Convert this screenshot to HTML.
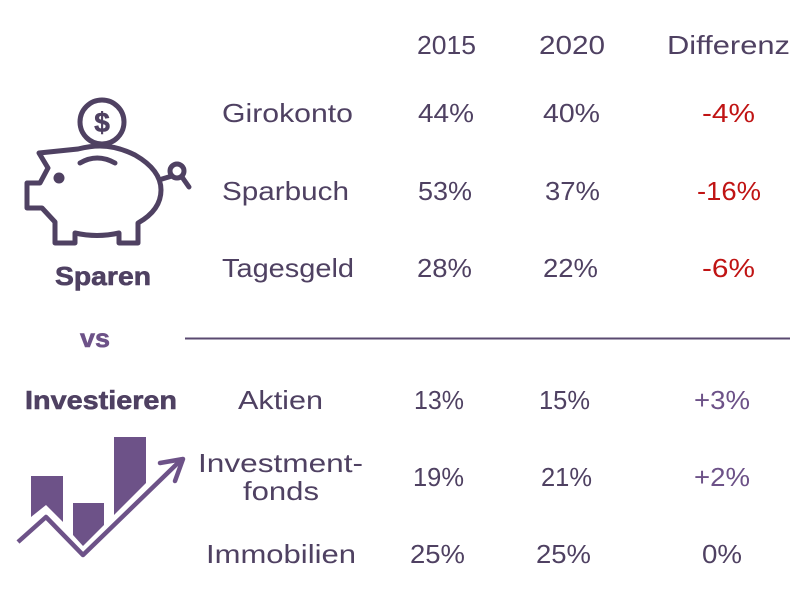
<!DOCTYPE html>
<html><head><meta charset="utf-8"><style>
html,body{margin:0;padding:0;background:#fff}
svg{display:block}
text{font-family:"Liberation Sans",sans-serif;font-size:26px;fill:#4f4162}
.r{fill:#c01414}.p{fill:#6d5288}
.b{font-weight:bold;stroke:#4f4162;stroke-width:.6}
.b.p{stroke:#6d5288}
</style></head><body>
<svg width="800" height="600" viewBox="0 0 800 600">
<g fill="none" stroke="#4f4162" stroke-width="5" stroke-linejoin="round" stroke-linecap="round">
<circle cx="102" cy="122" r="22"/>
<path d="M39 153L78 149Q90 146 100 146Q117 146 135 155Q161 170 161 190Q161 210 138 223V243H119V233Q97 238 75 233V243H55V222L42 208H27V183H40L48 168Z"/>
<path d="M80 163Q97 153 115 163"/>
<path d="M162 179L172 176"/><circle cx="177" cy="171" r="7"/><path d="M182 177L189 187"/>
<circle cx="59" cy="178" r="5.5" fill="#4f4162" stroke="none"/>
</g>
<text x="102" y="132" text-anchor="middle" class="b" style="font-size:28px">$</text>
<g>
<path fill="#6d5288" d="M31 476H63V522L46 505L31 517Z"/>
<path fill="#6d5288" d="M73 503H104V525L83 546L73 535Z"/>
<path fill="#6d5288" d="M114 437H146V483L114 515Z"/>
<path fill="none" stroke="#6d5288" stroke-width="4.5" stroke-linejoin="round" d="M18 542L46 517L83 555L182 459"/>
<path fill="none" stroke="#6d5288" stroke-width="4.5" stroke-linecap="round" stroke-linejoin="round" d="M160 463L183 459L175 481"/>
</g>
<g>
<text x="417" y="54" textLength="59" lengthAdjust="spacingAndGlyphs">2015</text>
<text x="539" y="54" textLength="66" lengthAdjust="spacingAndGlyphs">2020</text>
<text x="667" y="54" textLength="123" lengthAdjust="spacingAndGlyphs">Differenz</text>
</g>
<g>
<text x="222" y="122" textLength="131" lengthAdjust="spacingAndGlyphs">Girokonto</text>
<text x="418" y="122" textLength="56" lengthAdjust="spacingAndGlyphs">44%</text>
<text x="543" y="122" textLength="57" lengthAdjust="spacingAndGlyphs">40%</text>
<text x="702" y="122" textLength="53" lengthAdjust="spacingAndGlyphs" class="r">-4%</text>
</g>
<g>
<text x="222" y="200" textLength="127" lengthAdjust="spacingAndGlyphs">Sparbuch</text>
<text x="418" y="200" textLength="54" lengthAdjust="spacingAndGlyphs">53%</text>
<text x="545" y="200" textLength="55" lengthAdjust="spacingAndGlyphs">37%</text>
<text x="697" y="200" textLength="64" lengthAdjust="spacingAndGlyphs" class="r">-16%</text>
</g>
<g>
<text x="222" y="277" textLength="132" lengthAdjust="spacingAndGlyphs">Tagesgeld</text>
<text x="417" y="277" textLength="55" lengthAdjust="spacingAndGlyphs">28%</text>
<text x="543" y="277" textLength="55" lengthAdjust="spacingAndGlyphs">22%</text>
<text x="702" y="277" textLength="53" lengthAdjust="spacingAndGlyphs" class="r">-6%</text>
</g>
<text x="55" y="285" textLength="96" lengthAdjust="spacingAndGlyphs" class="b">Sparen</text>
<text x="80" y="347" textLength="30" lengthAdjust="spacingAndGlyphs" class="b p">vs</text>
<line x1="185" y1="338.5" x2="790" y2="338.5" stroke="#5a4a70" stroke-width="2"/>
<text x="25" y="409" textLength="152" lengthAdjust="spacingAndGlyphs" class="b">Investieren</text>
<g>
<text x="238" y="409" textLength="85" lengthAdjust="spacingAndGlyphs">Aktien</text>
<text x="414" y="409" textLength="50" lengthAdjust="spacingAndGlyphs">13%</text>
<text x="539" y="409" textLength="51" lengthAdjust="spacingAndGlyphs">15%</text>
<text x="694" y="409" textLength="56" lengthAdjust="spacingAndGlyphs" class="p">+3%</text>
</g>
<g>
<text x="198" y="472" textLength="165" lengthAdjust="spacingAndGlyphs">Investment-</text>
<text x="243" y="500" textLength="76" lengthAdjust="spacingAndGlyphs">fonds</text>
<text x="413" y="486" textLength="51" lengthAdjust="spacingAndGlyphs">19%</text>
<text x="541" y="486" textLength="51" lengthAdjust="spacingAndGlyphs">21%</text>
<text x="694" y="486" textLength="56" lengthAdjust="spacingAndGlyphs" class="p">+2%</text>
</g>
<g>
<text x="206" y="563" textLength="150" lengthAdjust="spacingAndGlyphs">Immobilien</text>
<text x="410" y="563" textLength="55" lengthAdjust="spacingAndGlyphs">25%</text>
<text x="536" y="563" textLength="55" lengthAdjust="spacingAndGlyphs">25%</text>
<text x="702" y="563" textLength="40" lengthAdjust="spacingAndGlyphs">0%</text>
</g>
</svg>
</body></html>
